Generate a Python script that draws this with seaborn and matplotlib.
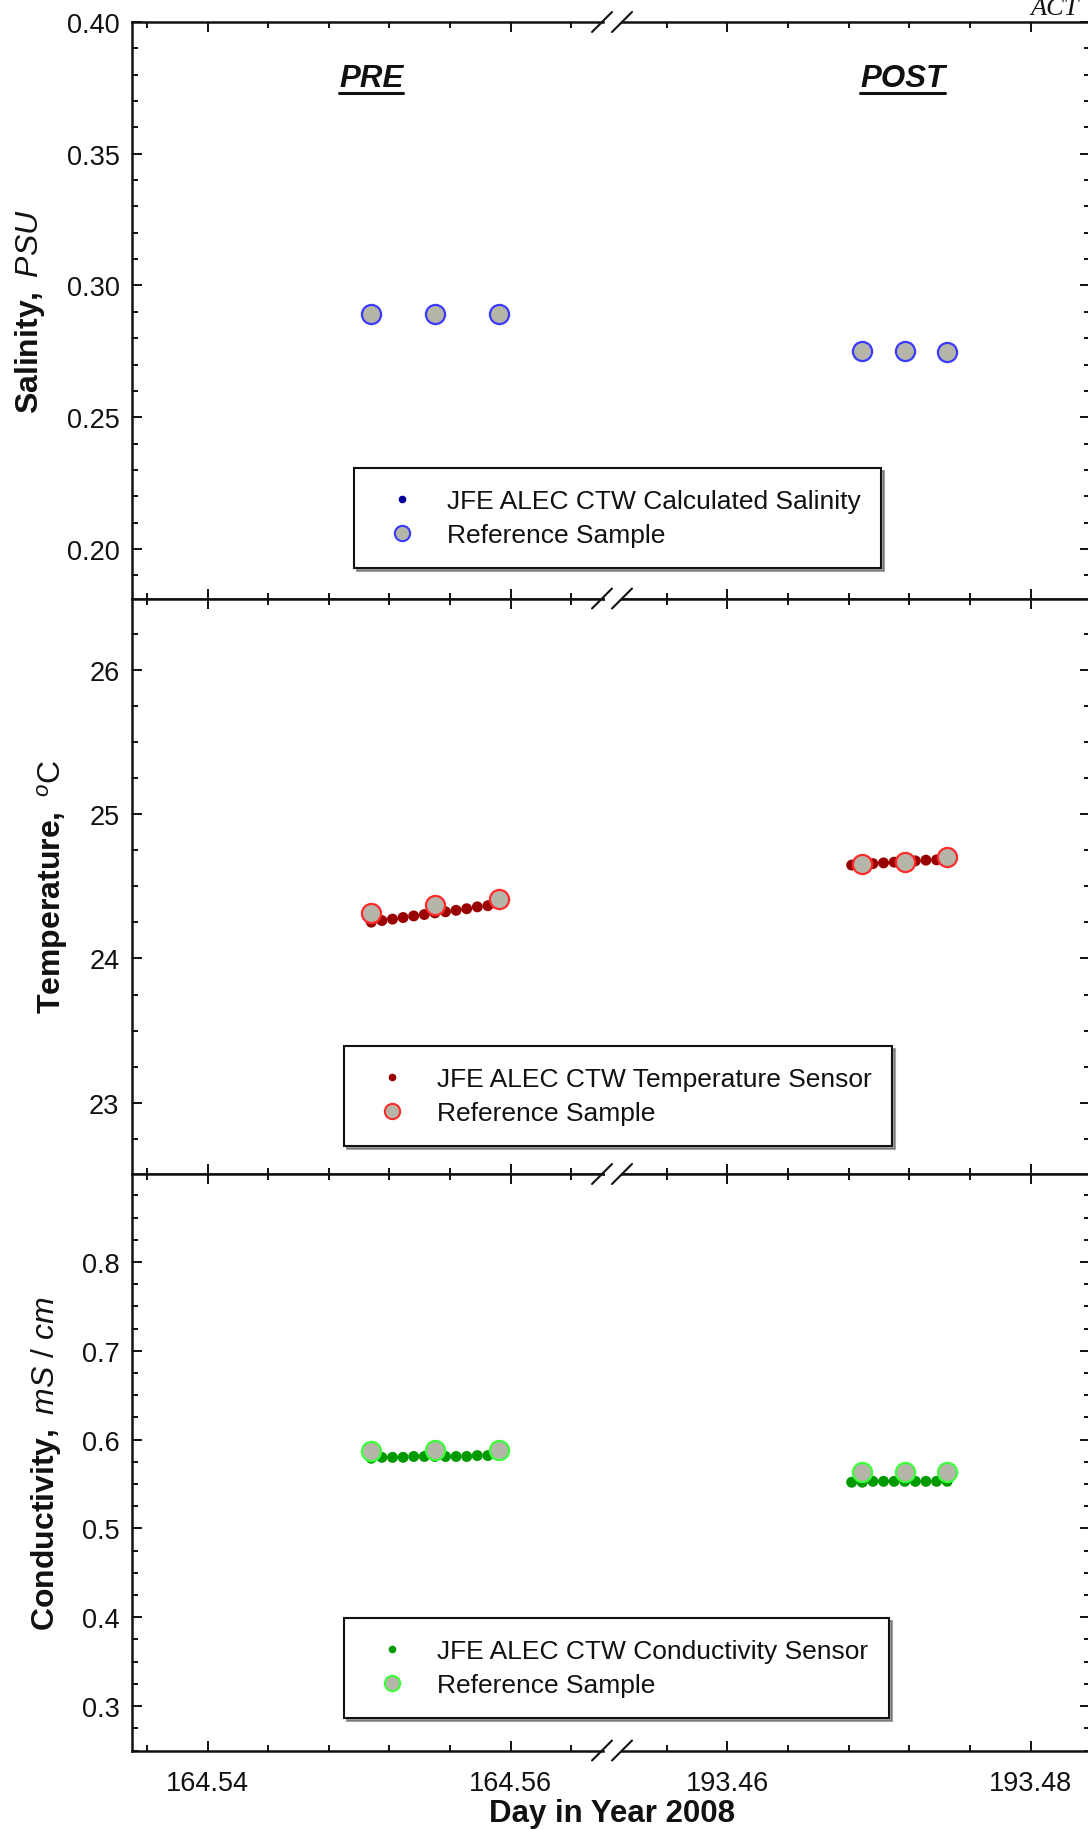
import matplotlib
matplotlib.use("Agg")
import matplotlib.pyplot as plt
import seaborn as sns
import pandas as pd
from matplotlib.lines import Line2D
from matplotlib.ticker import MultipleLocator, FormatStrFormatter

# ---------------- data ----------------
pre_sensor_day = [164.5508, 164.5515, 164.5522, 164.5529, 164.5536, 164.5543, 164.5550,
                  164.5557, 164.5564, 164.5571, 164.5578, 164.5585, 164.5592]
post_sensor_day = [193.4682, 193.4689, 193.4696, 193.4703, 193.4710, 193.4717, 193.4724,
                   193.4731, 193.4738, 193.4745]
pre_ref_day = [164.5508, 164.5550, 164.5592]
post_ref_day = [193.4689, 193.4717, 193.4745]

pre_ref_salinity = [0.2891, 0.2891, 0.2891]
post_ref_salinity = [0.2752, 0.2752, 0.2748]
pre_calc_salinity = []      # calculated salinity points not visible in the chart
post_calc_salinity = []

pre_sensor_temp = [24.252, 24.263, 24.273, 24.284, 24.295, 24.305, 24.316, 24.324,
                   24.334, 24.345, 24.358, 24.366, 24.380]
post_sensor_temp = [24.648, 24.653, 24.658, 24.663, 24.668, 24.672, 24.677, 24.682,
                    24.684, 24.689]
pre_ref_temp = [24.316, 24.369, 24.411]
post_ref_temp = [24.653, 24.672, 24.701]

pre_sensor_cond = [0.579, 0.580, 0.580, 0.580, 0.581, 0.581, 0.581, 0.581, 0.581,
                   0.581, 0.582, 0.582, 0.582]
post_sensor_cond = [0.552, 0.552, 0.553, 0.553, 0.553, 0.553, 0.553, 0.553, 0.553, 0.553]
pre_ref_cond = [0.5871, 0.5888, 0.5888]
post_ref_cond = [0.5635, 0.5640, 0.5635]

# ---------------- style ----------------
sns.set_theme(style="ticks")
plt.rcParams["font.family"] = ["Liberation Sans", "DejaVu Sans"]
plt.rcParams["mathtext.fontset"] = "custom"
plt.rcParams["mathtext.rm"] = "Liberation Sans"
plt.rcParams["mathtext.it"] = "Liberation Sans:italic"
plt.rcParams["mathtext.bf"] = "Liberation Sans:bold"
for k in ["text.color", "axes.labelcolor", "xtick.color", "ytick.color", "axes.edgecolor"]:
    plt.rcParams[k] = "#111111"

W, H = 1088, 1831
fig = plt.figure(figsize=(W / 100, H / 100), dpi=100)

REF_FILL = "#b5b5aa"
rows = [
    dict(bounds=(23, 599.5), ylim=(0.1812, 0.40), major=0.05, minor=0.01, fmt="%.2f",
         label=r"$\mathbf{Salinity,}\ \mathit{PSU}$", labx=47,
         sensor=(pre_calc_salinity, post_calc_salinity), ref=(pre_ref_salinity, post_ref_salinity),
         sens_color="#000099", edge="#3a3aff",
         leg=("JFE ALEC CTW Calculated Salinity", 354, 469)),
    dict(bounds=(599.5, 1175), ylim=(22.505, 26.497), major=1, minor=0.25, fmt="%d",
         label=r"$\mathbf{Temperature,}\ ^{o}\mathrm{C}$", labx=70,
         sensor=(pre_sensor_temp, post_sensor_temp), ref=(pre_ref_temp, post_ref_temp),
         sens_color="#990000", edge="#ff2a2a",
         leg=("JFE ALEC CTW Temperature Sensor", 344, 1047)),
    dict(bounds=(1175, 1751.5), ylim=(0.25, 0.899), major=0.1, minor=0.025, fmt="%.1f",
         label=r"$\mathbf{Conductivity,}\ \mathit{mS\ /\ cm}$", labx=63,
         sensor=(pre_sensor_cond, post_sensor_cond), ref=(pre_ref_cond, post_ref_cond),
         sens_color="#009900", edge="#3cff3c",
         leg=("JFE ALEC CTW Conductivity Sensor", 344, 1619)),
]

xL0, xL1 = 132, 603
xR0, xR1 = 622, 1090
xlim_left = (164.535, 164.5661)
xlim_right = (193.45305, 193.48392)

axes_rows = []
for i, r in enumerate(rows):
    top, bot = r["bounds"]
    b = 1 - bot / H
    h = (bot - top) / H
    axL = fig.add_axes([xL0 / W, b, (xL1 - xL0) / W, h])
    axR = fig.add_axes([xR0 / W, b, (xR1 - xR0) / W, h])
    axes_rows.append((axL, axR))
    for j, ax in enumerate((axL, axR)):
        days_s = (pre_sensor_day, post_sensor_day)[j]
        days_r = (pre_ref_day, post_ref_day)[j]
        vals_s = r["sensor"][j]
        if len(vals_s) > 0:
            df_s = pd.DataFrame({"day": days_s, "val": vals_s})
            sns.scatterplot(data=df_s, x="day", y="val", ax=ax, color=r["sens_color"],
                            s=62, edgecolor="none", linewidth=0, legend=False, zorder=3)
        df_r = pd.DataFrame({"day": days_r, "val": r["ref"][j]})
        sns.scatterplot(data=df_r, x="day", y="val", ax=ax, color=REF_FILL,
                        s=190, edgecolor=r["edge"], linewidth=1.6, legend=False, zorder=4)
        ax.set_xlim(xlim_left if j == 0 else xlim_right)
        ax.set_ylim(*r["ylim"])
        ax.set_xlabel("")
        ax.set_ylabel("")
        ax.xaxis.set_major_locator(MultipleLocator(0.02))
        ax.xaxis.set_minor_locator(MultipleLocator(0.004))
        ax.xaxis.set_major_formatter(FormatStrFormatter("%.2f"))
        ax.yaxis.set_major_locator(MultipleLocator(r["major"]))
        ax.yaxis.set_minor_locator(MultipleLocator(r["minor"]))
        ax.yaxis.set_major_formatter(FormatStrFormatter(r["fmt"]))
        for sp in ax.spines.values():
            sp.set_linewidth(1.8)
            sp.set_color("#111111")
        ax.tick_params(which="both", direction="in", top=True, bottom=True,
                       left=(j == 0), right=(j == 1), labelleft=(j == 0), labelright=False,
                       labelbottom=(i == 2), labelsize=19.5, width=1.4, pad=9)
        ax.tick_params(axis="x", which="both", pad=14)
        ax.tick_params(which="major", length=7.5)
        ax.tick_params(which="minor", length=4.5)
    axL.spines["right"].set_visible(False)
    axR.spines["left"].set_visible(False)
    axL.set_ylabel(r["label"], fontsize=23)
    axL.yaxis.set_label_coords((r["labx"] - xL0) / (xL1 - xL0), 0.5)

    # legend
    text, lx, ly = r["leg"]
    handles = [
        Line2D([], [], linestyle="none", marker="o", markersize=5.5,
               markerfacecolor=r["sens_color"], markeredgecolor="none"),
        Line2D([], [], linestyle="none", marker="o", markersize=11,
               markerfacecolor=REF_FILL, markeredgecolor=r["edge"], markeredgewidth=1.5),
    ]
    leg = fig.legend(handles, [text, "Reference Sample"], loc="upper left",
                     bbox_to_anchor=(lx / W, 1 - ly / H), bbox_transform=fig.transFigure,
                     borderaxespad=0, fontsize=19, frameon=True, fancybox=False,
                     framealpha=1, shadow=True, borderpad=0.79, labelspacing=0.39,
                     handlelength=2.04, handletextpad=0.69)
    fr = leg.get_frame()
    fr.set_edgecolor("#111111")
    fr.set_linewidth(1.5)
    fr.set_facecolor("white")

# break marks "//" at each panel boundary
for yb in (23, 599.5, 1175, 1751.5):
    for cx in (602, 622):
        fig.add_artist(Line2D([(cx - 10) / W, (cx + 10) / W],
                              [1 - (yb + 10) / H, 1 - (yb - 10) / H],
                              transform=fig.transFigure, color="#111111", lw=1.5))

# PRE / POST titles
axTL, axTR = axes_rows[0]
tpre = axTL.text(164.5508, 0.903, "PRE", transform=axTL.get_xaxis_transform(),
                 ha="center", va="center", fontsize=22.5, fontweight="bold", style="italic")
tpost = axTR.text(193.47156, 0.903, "POST", transform=axTR.get_xaxis_transform(),
                  ha="center", va="center", fontsize=22.5, fontweight="bold", style="italic")

fig.text(612 / W, 1 - 1822 / H, "Day in Year 2008", ha="center", va="baseline",
         fontsize=22.5, fontweight="bold")
fig.text(1030 / W, 1 - 15 / H, "ACT", ha="left", va="baseline", fontsize=19,
         family=["Liberation Serif", "DejaVu Serif"], style="italic")

fig.canvas.draw()
rend = fig.canvas.get_renderer()
for t in (tpre, tpost):
    bb = t.get_window_extent(rend)
    yline = 1 - 94 / H
    fig.add_artist(Line2D([bb.x0 / W, bb.x1 / W], [yline, yline],
                          transform=fig.transFigure, color="#111111", lw=2.2))

fig.savefig("out.png", dpi=100)
